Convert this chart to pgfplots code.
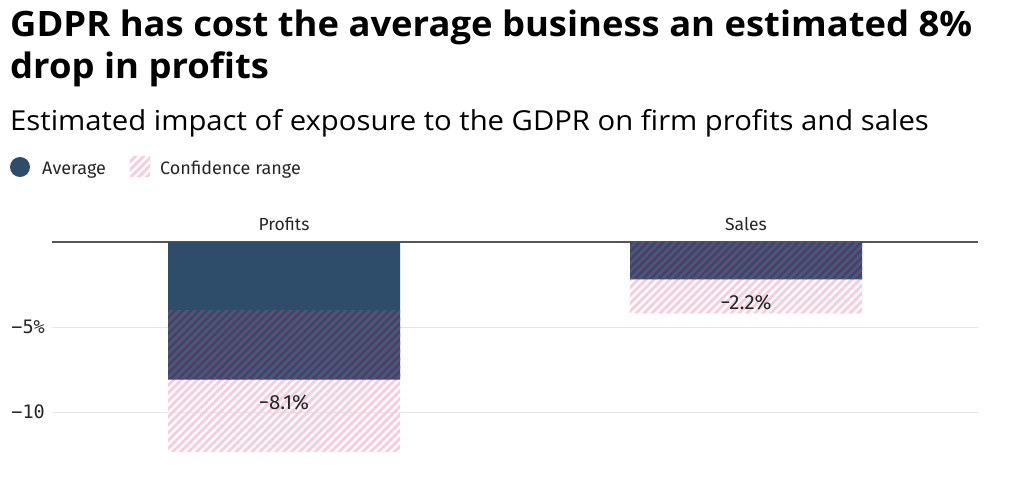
\documentclass[border=0pt]{standalone}
\usepackage{fontspec}
\setmainfont{Fira Sans}
\newfontfamily\titlefont{Open Sans}
\newfontfamily\monofont{DejaVu Sans Mono}
\usepackage{pgfplots}
\usepackage{pgfplotstable}
\pgfplotsset{compat=1.18}
\usetikzlibrary{patterns.meta}
\definecolor{navy}{RGB}{46,77,107}
\definecolor{hatchlight}{RGB}{248,204,220}
\definecolor{hatchdark}{RGB}{98,76,116}
\definecolor{zeroline}{RGB}{85,85,85}
\definecolor{gridc}{RGB}{230,230,230}

\pgfplotstableread{
x avg lo hi lab
284 -8.1 -12.35 -4.0 {−8.1\%}
746 -2.2 -4.2 0 {−2.2\%}
}\data

\pgfplotsset{base/.style={at={(52pt,19pt)}, anchor=south west, scale only axis,
  width=926pt, height=221pt, xmin=52, xmax=978, ymin=-13, ymax=0,
  axis line style={draw=none}, tick style={draw=none}, clip=false}}
\tikzset{
  cilight/.style={pattern={Lines[angle=45,distance=5.6pt,line width=2.8pt]}, pattern color=hatchlight, draw=none},
  cidark/.style={pattern={Lines[angle=45,distance=5.6pt,line width=2.8pt]}, pattern color=hatchdark, draw=none}}

\begin{document}
\begin{tikzpicture}
\path[use as bounding box] (0,0) rectangle (1024pt,482pt);
\fill[white] (0,0) rectangle (1024pt,482pt);

\node[anchor=base west, inner sep=0pt, font=\titlefont\bfseries\fontsize{35}{40}\selectfont] at (10pt,445.5pt) {\scalebox{1.04}[1]{GDPR has cost the average business an estimated 8\%}};
\node[anchor=base west, inner sep=0pt, font=\titlefont\bfseries\fontsize{35}{40}\selectfont] at (10pt,403pt) {\scalebox{1.04}[1]{drop in profits}};
\node[anchor=base west, inner sep=0pt, font=\titlefont\fontsize{27.5}{30}\selectfont] at (10pt,351pt) {\scalebox{1.064}[1]{Estimated impact of exposure to the GDPR on firm profits and sales}};

\fill[navy] (20pt,315pt) circle (10pt);
\node[anchor=base west, inner sep=0pt, font=\fontsize{18}{22}\selectfont, text=black!85] at (42pt,307pt) {Average};
\fill[cilight] (130pt,305pt) rectangle (150pt,325pt);
\node[anchor=base west, inner sep=0pt, font=\fontsize{18}{22}\selectfont, text=black!85] at (160pt,307pt) {Confidence range};

% average bars, grid, ticks
\begin{axis}[base, ybar, bar width=232pt, bar shift=0pt,
  ytick={-10,-5}, yticklabels={−10,−5\%},
  yticklabel style={font=\monofont\fontsize{18.5}{18}\selectfont, text=black!85, inner sep=0pt, xshift=-7pt},
  ymajorgrids, major grid style={gridc, line width=1pt},
  extra y ticks={0}, extra y tick labels={},
  extra y tick style={major grid style={zeroline, line width=1.5pt}},
  xtick={284,746}, xticklabels={Profits,Sales}, xticklabel pos=upper,
  xticklabel style={font=\fontsize{17.5}{20}\selectfont, text=black!85, inner sep=0pt, yshift=7pt}]
\addplot[fill=navy, draw=none] table[x=x, y=avg] {\data};
\end{axis}

% confidence ranges: part over the average bar, part beyond it
\begin{axis}[base, ybar stacked, bar width=232pt, bar shift=0pt, xtick=\empty, ytick=\empty]
\addplot[fill=none, draw=none] table[x=x, y=hi] {\data};
\addplot[cidark] table[x=x, y expr=\thisrow{avg}-\thisrow{hi}] {\data};
\addplot[cilight] table[x=x, y expr=\thisrow{lo}-\thisrow{avg}] {\data};
\end{axis}

% value labels
\begin{axis}[base, xtick=\empty, ytick=\empty]
\addplot[draw=none, nodes near coords, point meta=explicit symbolic,
  every node near coord/.style={anchor=center, yshift=-23pt, font=\fontsize{20.5}{22}\selectfont, text=black!85}]
  table[x=x, y=avg, meta=lab] {\data};
\end{axis}
\end{tikzpicture}
\end{document}
